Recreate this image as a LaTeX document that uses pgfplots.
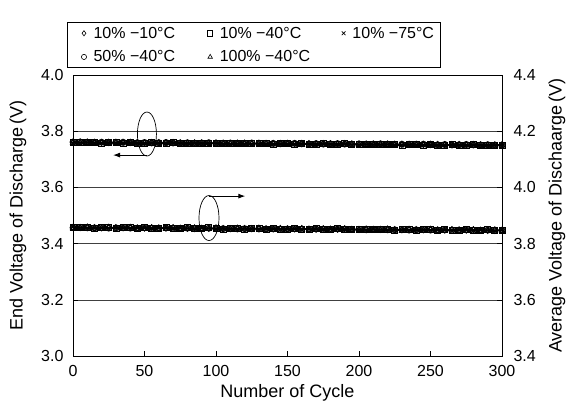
\documentclass[border=0pt]{standalone}
\usepackage{fontspec}
\setmainfont{Liberation Sans}
\usepackage{pgfplots}
\usepackage{pgfplotstable}
\pgfplotsset{compat=1.18}
\usetikzlibrary{arrows.meta}

% x  e1..e5 (end voltage, left axis)  a1..a5 (average voltage, right axis)
\pgfplotstableread{
x   e1    e2    e3    e4    e5    a1    a2    a3    a4    a5
0   3.762 3.760 3.758 3.761 3.759 3.858 3.856 3.859 3.857 3.855
5   3.761 3.759 3.758 3.762 3.760 3.857 3.859 3.856 3.858 3.855
10  3.762 3.761 3.759 3.760 3.758 3.859 3.857 3.855 3.856 3.858
15  3.761 3.759 3.757 3.760 3.758 3.857 3.855 3.858 3.856 3.854
20  3.760 3.758 3.757 3.761 3.759 3.856 3.858 3.855 3.857 3.854
25  3.761 3.760 3.758 3.759 3.757 3.858 3.856 3.854 3.855 3.857
30  3.761 3.759 3.757 3.760 3.758 3.857 3.855 3.858 3.856 3.854
35  3.760 3.758 3.757 3.761 3.759 3.856 3.858 3.855 3.857 3.854
40  3.761 3.760 3.758 3.759 3.757 3.858 3.856 3.854 3.855 3.857
45  3.760 3.758 3.756 3.759 3.757 3.856 3.854 3.857 3.855 3.853
50  3.759 3.757 3.756 3.760 3.758 3.855 3.857 3.854 3.856 3.853
55  3.760 3.759 3.757 3.758 3.756 3.857 3.855 3.853 3.854 3.856
60  3.760 3.758 3.756 3.759 3.757 3.856 3.854 3.857 3.855 3.853
65  3.759 3.757 3.756 3.760 3.758 3.855 3.857 3.854 3.856 3.853
70  3.760 3.759 3.757 3.758 3.756 3.857 3.855 3.853 3.854 3.856
75  3.759 3.757 3.755 3.758 3.756 3.855 3.853 3.856 3.854 3.852
80  3.758 3.756 3.755 3.759 3.757 3.854 3.856 3.853 3.855 3.852
85  3.759 3.758 3.756 3.757 3.755 3.856 3.854 3.852 3.853 3.855
90  3.759 3.757 3.755 3.758 3.756 3.855 3.853 3.856 3.854 3.852
95  3.758 3.756 3.755 3.759 3.757 3.854 3.856 3.853 3.855 3.852
100 3.759 3.758 3.756 3.757 3.755 3.856 3.854 3.852 3.853 3.855
105 3.758 3.756 3.754 3.757 3.755 3.854 3.852 3.855 3.853 3.851
110 3.757 3.755 3.754 3.758 3.756 3.853 3.855 3.852 3.854 3.851
115 3.758 3.757 3.755 3.756 3.754 3.855 3.853 3.851 3.852 3.854
120 3.758 3.756 3.754 3.757 3.755 3.854 3.852 3.855 3.853 3.851
125 3.757 3.755 3.754 3.758 3.756 3.853 3.855 3.852 3.854 3.851
130 3.758 3.757 3.755 3.756 3.754 3.855 3.853 3.851 3.852 3.854
135 3.757 3.755 3.753 3.756 3.754 3.853 3.851 3.854 3.852 3.850
140 3.756 3.754 3.753 3.757 3.755 3.852 3.854 3.851 3.853 3.850
145 3.757 3.756 3.754 3.755 3.753 3.854 3.852 3.850 3.851 3.853
150 3.757 3.755 3.753 3.756 3.754 3.853 3.851 3.854 3.852 3.850
155 3.756 3.754 3.753 3.757 3.755 3.852 3.854 3.851 3.853 3.850
160 3.757 3.756 3.754 3.755 3.753 3.854 3.852 3.850 3.851 3.853
165 3.756 3.754 3.752 3.755 3.753 3.852 3.850 3.853 3.851 3.849
170 3.755 3.753 3.752 3.756 3.754 3.851 3.853 3.850 3.852 3.849
175 3.756 3.755 3.753 3.754 3.752 3.853 3.851 3.849 3.850 3.852
180 3.756 3.754 3.752 3.755 3.753 3.852 3.850 3.853 3.851 3.849
185 3.755 3.753 3.752 3.756 3.754 3.851 3.853 3.850 3.852 3.849
190 3.756 3.755 3.753 3.754 3.752 3.853 3.851 3.849 3.850 3.852
195 3.755 3.753 3.751 3.754 3.752 3.851 3.849 3.852 3.850 3.848
200 3.754 3.752 3.751 3.755 3.753 3.850 3.852 3.849 3.851 3.848
205 3.755 3.754 3.752 3.753 3.751 3.852 3.850 3.848 3.849 3.851
210 3.755 3.753 3.751 3.754 3.752 3.851 3.849 3.852 3.850 3.848
215 3.754 3.752 3.751 3.755 3.753 3.850 3.852 3.849 3.851 3.848
220 3.755 3.754 3.752 3.753 3.751 3.852 3.850 3.848 3.849 3.851
225 3.754 3.752 3.750 3.753 3.751 3.850 3.848 3.851 3.849 3.847
230 3.753 3.751 3.750 3.754 3.752 3.849 3.851 3.848 3.850 3.847
235 3.754 3.753 3.751 3.752 3.750 3.851 3.849 3.847 3.848 3.850
240 3.754 3.752 3.750 3.753 3.751 3.850 3.848 3.851 3.849 3.847
245 3.753 3.751 3.750 3.754 3.752 3.849 3.851 3.848 3.850 3.847
250 3.754 3.753 3.751 3.752 3.750 3.851 3.849 3.847 3.848 3.850
255 3.753 3.751 3.749 3.752 3.750 3.849 3.847 3.850 3.848 3.846
260 3.752 3.750 3.749 3.753 3.751 3.848 3.850 3.847 3.849 3.846
265 3.753 3.752 3.750 3.751 3.749 3.850 3.848 3.846 3.847 3.849
270 3.753 3.751 3.749 3.752 3.750 3.849 3.847 3.850 3.848 3.846
275 3.752 3.750 3.749 3.753 3.751 3.848 3.850 3.847 3.849 3.846
280 3.753 3.752 3.750 3.751 3.749 3.850 3.848 3.846 3.847 3.849
285 3.752 3.750 3.748 3.751 3.749 3.848 3.846 3.849 3.847 3.845
290 3.751 3.749 3.748 3.752 3.750 3.847 3.849 3.846 3.848 3.845
295 3.752 3.751 3.749 3.750 3.748 3.849 3.847 3.845 3.846 3.848
300 3.752 3.750 3.748 3.751 3.749 3.848 3.846 3.849 3.847 3.845
}\cycdata

\pgfplotsset{
  cyc/.style={
    scale only axis, width=429pt, height=281pt,
    xmin=0, xmax=300,
    tick align=inside, major tick length=5pt,
    tick style={black, line width=0.6pt},
    axis line style={line width=0.8pt},
    tick label style={font=\fontsize{16}{18}\selectfont},
    label style={font=\fontsize{18}{20}\selectfont},
    /pgf/number format/assume math mode=true,
    yticklabel style={/pgf/number format/fixed, /pgf/number format/fixed zerofill,
                      /pgf/number format/precision=1},
  },
  band/.style={black, line width=1pt, mark size=3pt, mark options={solid, fill=white, line width=0.8pt}},
  legend image code/.code={\draw[#1, mark size=2.6pt, mark options={line width=0.6pt}] plot coordinates {(0pt,0pt)};},
}

\begin{document}
\begin{tikzpicture}
\useasboundingbox (-73pt,-49pt) rectangle (496pt,356pt);
\begin{axis}[cyc,
  ymin=3.0, ymax=4.0,
  ytick={3.0,3.2,3.4,3.6,3.8,4.0},
  xtick={0,50,100,150,200,250,300},
  xtick pos=bottom, ytick pos=left,
  xticklabel style={yshift=-6pt},
  yticklabel style={xshift=-6pt},
  ymajorgrids=true,
  grid style={black!75, line width=0.5pt},
  xlabel={Number of Cycle},
  xlabel style={at={(axis description cs:0.5,-0.132)}, anchor=center},
  ylabel={End Voltage of Discharge\,(V)},
  ylabel style={at={(axis description cs:-0.128,0.5)}, anchor=center},
  legend columns=3,
  legend cell align=left,
  legend style={at={(-0.014,1.1885)}, anchor=north west,
    font=\fontsize{16}{18}\selectfont, draw=black, line width=0.8pt,
    inner xsep=14pt, inner ysep=2.5pt, row sep=7pt,
    /tikz/every odd column/.append style={column sep=5pt}},
]
\addplot[band, mark=diamond]  table[x=x, y=e1] {\cycdata};
\addplot[band, mark=square]   table[x=x, y=e2] {\cycdata};
\addplot[band, mark=x]        table[x=x, y=e3] {\cycdata};
\addplot[band, mark=o]        table[x=x, y=e4] {\cycdata};
\addplot[band, mark=triangle] table[x=x, y=e5] {\cycdata};
\legend{\makebox[112pt][l]{10\% −10°C}, \makebox[120pt][l]{10\% −40°C}, \makebox[72pt][l]{10\% −75°C},
        \makebox[112pt][l]{50\% −40°C}, \makebox[120pt][l]{100\% −40°C}}
% annotation: ellipses and arrows marking which axis each band uses
\draw[line width=0.7pt] (axis cs:51.7,3.79) ellipse [x radius=9.5pt, y radius=22pt];
\draw[line width=0.9pt, -{Latex[length=7pt,width=5pt]}] (axis cs:51.7,3.715) -- (axis cs:28,3.715);
\draw[line width=0.7pt] (axis cs:95.1,3.491) ellipse [x radius=10pt, y radius=22.5pt];
\draw[line width=0.9pt, -{Latex[length=7pt,width=5pt]}] (axis cs:95.1,3.569) -- (axis cs:120.5,3.569);
\end{axis}
\begin{axis}[cyc,
  ymin=3.4, ymax=4.4,
  ytick={3.4,3.6,3.8,4.0,4.2,4.4},
  axis y line*=right, axis x line=none,
  yticklabel style={xshift=8pt},
  ylabel={Average Voltage of Dischaarge\,(V)},
  ylabel style={at={(axis description cs:1.128,0.5)}, anchor=center},
]
\addplot[band, mark=diamond]  table[x=x, y=a1] {\cycdata};
\addplot[band, mark=square]   table[x=x, y=a2] {\cycdata};
\addplot[band, mark=x]        table[x=x, y=a3] {\cycdata};
\addplot[band, mark=o]        table[x=x, y=a4] {\cycdata};
\addplot[band, mark=triangle] table[x=x, y=a5] {\cycdata};
\end{axis}
\end{tikzpicture}
\end{document}
